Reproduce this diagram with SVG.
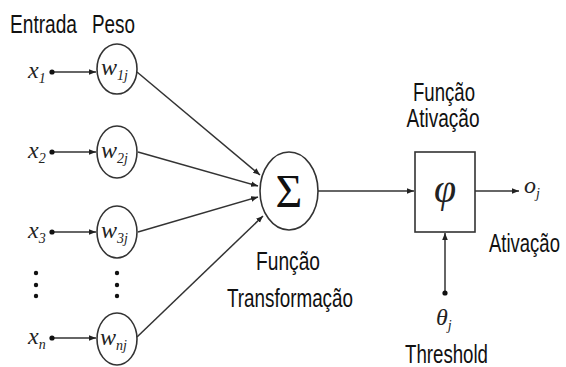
<svg xmlns="http://www.w3.org/2000/svg" width="566" height="367" viewBox="0 0 566 367">
<style>
.lbl{font-family:"Liberation Sans",Arial,sans-serif;font-size:25px;fill:#111}
.m{font-family:"Liberation Serif","Times New Roman",serif;font-style:italic;fill:#222}
.mv{font-size:24px}
.ms{font-size:14px}
.node{fill:#fff;stroke:#333;stroke-width:1.6}
.edge{stroke:#333;stroke-width:1.5;fill:none}
.dot{fill:#111}
</style>
<defs>
<marker id="ah" viewBox="0 0 10 10" refX="10" refY="5" markerWidth="7" markerHeight="7" markerUnits="userSpaceOnUse" orient="auto">
<path d="M0,1 L10,5 L0,9 Z" fill="#222"/>
</marker>
</defs>
<rect width="566" height="367" fill="#fff"/>
<text class="lbl" x="10" y="33" textLength="67" lengthAdjust="spacingAndGlyphs">Entrada</text>
<text class="lbl" x="92" y="33" textLength="43" lengthAdjust="spacingAndGlyphs">Peso</text>
<g id="connectors">
<line class="edge" x1="52" y1="72" x2="96" y2="72" marker-end="url(#ah)"/>
<line class="edge" x1="52" y1="152" x2="96" y2="152" marker-end="url(#ah)"/>
<line class="edge" x1="52" y1="232" x2="96" y2="232" marker-end="url(#ah)"/>
<line class="edge" x1="52" y1="338" x2="96" y2="338" marker-end="url(#ah)"/>
<line class="edge" x1="137" y1="72" x2="260" y2="175" marker-end="url(#ah)"/>
<line class="edge" x1="138" y1="152" x2="258" y2="186" marker-end="url(#ah)"/>
<line class="edge" x1="138" y1="232" x2="258" y2="197" marker-end="url(#ah)"/>
<line class="edge" x1="137" y1="337" x2="263" y2="216" marker-end="url(#ah)"/>
<line class="edge" x1="318" y1="191" x2="414" y2="191" marker-end="url(#ah)"/>
<line class="edge" x1="475" y1="191" x2="519" y2="191" marker-end="url(#ah)"/>
<line class="edge" x1="445" y1="293" x2="445" y2="233" marker-end="url(#ah)"/>
<circle class="dot" cx="52" cy="72" r="2.6"/>
<circle class="dot" cx="52" cy="152" r="2.6"/>
<circle class="dot" cx="52" cy="232" r="2.6"/>
<circle class="dot" cx="52" cy="338" r="2.6"/>
<circle class="dot" cx="445" cy="293" r="2.6"/>
</g>
<g id="x1"><text class="m mv" x="28" y="78">x<tspan class="ms" dy="5">1</tspan></text></g>
<g id="x2"><text class="m mv" x="28" y="158">x<tspan class="ms" dy="5">2</tspan></text></g>
<g id="x3"><text class="m mv" x="28" y="238">x<tspan class="ms" dy="5">3</tspan></text></g>
<g id="xn"><text class="m mv" x="28" y="344">x<tspan class="ms" dy="5">n</tspan></text></g>
<g id="dots-x"><circle class="dot" cx="36" cy="273" r="2.2"/><circle class="dot" cx="36" cy="285" r="2.2"/><circle class="dot" cx="36" cy="296" r="2.2"/></g>
<g id="dots-w"><circle class="dot" cx="117" cy="273" r="2.2"/><circle class="dot" cx="117" cy="285" r="2.2"/><circle class="dot" cx="117" cy="296" r="2.2"/></g>
<g id="w1"><ellipse class="node" cx="117" cy="69" rx="20" ry="25"/><text class="m mv" x="101" y="75">w<tspan class="ms" dy="5">1j</tspan></text></g>
<g id="w2"><ellipse class="node" cx="117" cy="152" rx="20" ry="26"/><text class="m mv" x="101" y="158">w<tspan class="ms" dy="5">2j</tspan></text></g>
<g id="w3"><ellipse class="node" cx="117" cy="232" rx="20" ry="26"/><text class="m mv" x="101" y="238">w<tspan class="ms" dy="5">3j</tspan></text></g>
<g id="wn"><ellipse class="node" cx="117" cy="339" rx="20" ry="26"/><text class="m mv" x="100" y="345">w<tspan class="ms" dy="5">nj</tspan></text></g>
<g id="sum"><ellipse class="node" cx="289" cy="191" rx="29" ry="39"/><text x="289" y="207" text-anchor="middle" font-family="'Liberation Serif','Times New Roman',serif" font-size="46" fill="#111">Σ</text></g>
<g id="sum-label">
<text class="lbl" x="288" y="270" text-anchor="middle" textLength="64" lengthAdjust="spacingAndGlyphs">Função</text>
<text class="lbl" x="290" y="307" text-anchor="middle" textLength="126" lengthAdjust="spacingAndGlyphs">Transformação</text>
</g>
<g id="act"><rect class="node" x="415" y="152" width="60" height="80"/><text class="m" x="445" y="202" text-anchor="middle" font-size="40">φ</text></g>
<g id="act-label">
<text class="lbl" x="444" y="101" text-anchor="middle" textLength="62" lengthAdjust="spacingAndGlyphs">Função</text>
<text class="lbl" x="443" y="127" text-anchor="middle" textLength="73" lengthAdjust="spacingAndGlyphs">Ativação</text>
</g>
<g id="out"><text class="m mv" x="524" y="193">o<tspan class="ms" dy="5">j</tspan></text>
<text class="lbl" transform="translate(489,252) scale(0.74,1)" x="0" y="0">Ativação</text></g>
<g id="theta"><text class="m mv" x="436" y="325">θ<tspan class="ms" dy="5">j</tspan></text>
<text class="lbl" x="405" y="363" textLength="83" lengthAdjust="spacingAndGlyphs">Threshold</text></g>
</svg>
